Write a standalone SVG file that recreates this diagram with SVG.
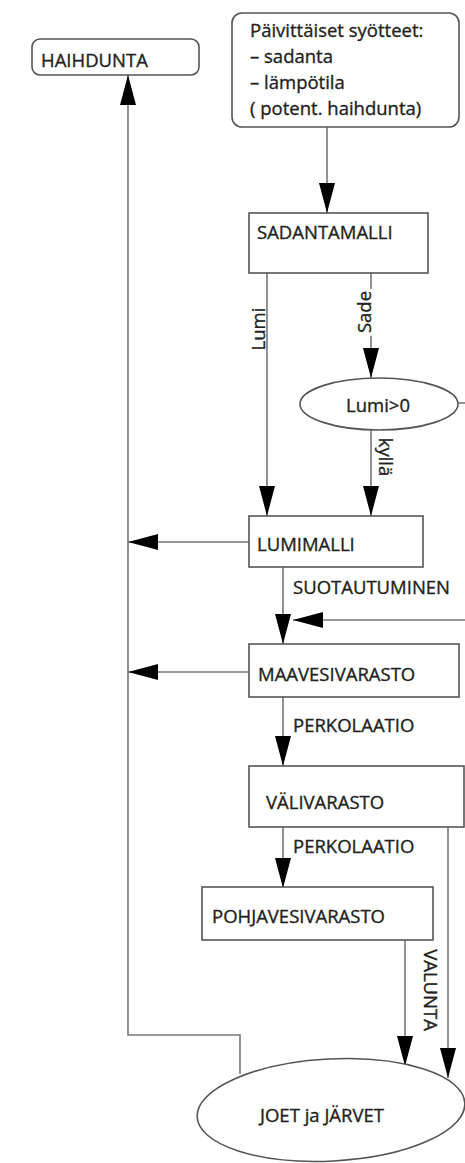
<svg xmlns="http://www.w3.org/2000/svg" width="465" height="1163" viewBox="0 0 465 1163">
<style>
.box{fill:#fff;stroke:#555;stroke-width:1.6}
.ln{fill:none;stroke:#777;stroke-width:1.6}
.t{font-family:"Open Sans","Liberation Sans",sans-serif;font-size:18.5px;fill:#231f20;stroke:#231f20;stroke-width:0.35}
.m{text-anchor:middle}
</style>
<defs>
<marker id="ah" viewBox="0 0 30 16" refX="30" refY="8" markerWidth="30" markerHeight="16" markerUnits="userSpaceOnUse" orient="auto">
<path d="M0,0 L30,8 L0,16 Z" fill="#000"/>
</marker>
</defs>
<rect width="465" height="1163" fill="#fff"/>
<g id="connectors">
<path class="ln" d="M327,127 V213" marker-end="url(#ah)"/>
<path class="ln" d="M267,273 V516" marker-end="url(#ah)"/>
<path class="ln" d="M371,273 V289"/>
<path class="ln" d="M371,336 V378" marker-end="url(#ah)"/>
<path class="ln" d="M371,430 V516" marker-end="url(#ah)"/>
<path class="ln" d="M458,403 H466"/>
<path class="ln" d="M249,542 H128" marker-end="url(#ah)"/>
<path class="ln" d="M283,567 V644" marker-end="url(#ah)"/>
<path class="ln" d="M466,620 H293" marker-end="url(#ah)"/>
<path class="ln" d="M249,672 H128" marker-end="url(#ah)"/>
<path class="ln" d="M283,697 V766" marker-end="url(#ah)"/>
<path class="ln" d="M283,827 V888" marker-end="url(#ah)"/>
<path class="ln" d="M448,827 V1078" marker-end="url(#ah)"/>
<path class="ln" d="M405,940 V1066" marker-end="url(#ah)"/>
<path class="ln" d="M240,1074 V1035 H128 V75" marker-end="url(#ah)"/>
<text class="t m" transform="translate(265,329) rotate(-90)">Lumi</text>
<text class="t m" transform="translate(371,312) rotate(-90)">Sade</text>
<text class="t m" transform="translate(379,457) rotate(90)">kyllä</text>
<text class="t" x="293" y="594">SUOTAUTUMINEN</text>
<text class="t" x="293" y="732">PERKOLAATIO</text>
<text class="t" x="293" y="853">PERKOLAATIO</text>
<text class="t m" transform="translate(424,990) rotate(90)">VALUNTA</text>
</g>
<g id="haihdunta">
<rect class="box" x="32" y="39" width="167" height="36" rx="8"/>
<text class="t" x="41" y="67">HAIHDUNTA</text>
</g>
<g id="syotteet">
<rect class="box" x="232" y="13" width="227" height="114" rx="10"/>
<text class="t" x="250" y="37">Päivittäiset syötteet:</text>
<text class="t" x="250" y="63">– sadanta</text>
<text class="t" x="250" y="89">– lämpötila</text>
<text class="t" x="250" y="115">( potent. haihdunta)</text>
</g>
<g id="sadantamalli">
<rect class="box" x="249" y="213" width="179" height="60"/>
<text class="t" x="257" y="239">SADANTAMALLI</text>
</g>
<g id="lumi0">
<ellipse class="box" cx="379" cy="404" rx="79" ry="26"/>
<text class="t m" x="378" y="412">Lumi&gt;0</text>
</g>
<g id="lumimalli">
<rect class="box" x="249" y="516" width="174" height="51"/>
<text class="t" x="257" y="551">LUMIMALLI</text>
</g>
<g id="maavesivarasto">
<rect class="box" x="249" y="644" width="210" height="53"/>
<text class="t" x="258" y="681">MAAVESIVARASTO</text>
</g>
<g id="valivarasto">
<rect class="box" x="249" y="766" width="215" height="61"/>
<text class="t" x="266" y="809">VÄLIVARASTO</text>
</g>
<g id="pohjavesivarasto">
<rect class="box" x="202" y="887" width="231" height="53"/>
<text class="t" x="212" y="923">POHJAVESIVARASTO</text>
</g>
<g id="joet">
<ellipse class="box" cx="331" cy="1110" rx="134" ry="51" transform="rotate(-3 331 1110)"/>
<text class="t m" x="322" y="1122">JOET ja JÄRVET</text>
</g>
</svg>
